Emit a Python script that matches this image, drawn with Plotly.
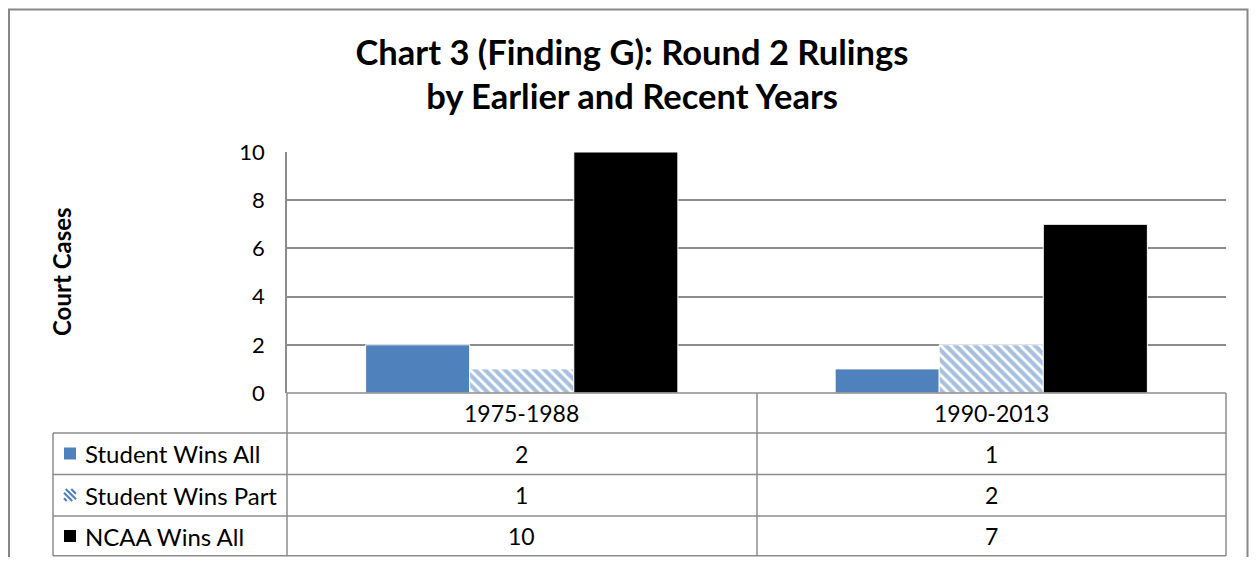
import plotly.graph_objects as go

# ---- data ----
categories = ["1975-1988", "1990-2013"]
series_names = ["Student Wins All", "Student Wins Part", "NCAA Wins All"]
student_wins_all = [2, 1]
student_wins_part = [1, 2]
ncaa_wins_all = [10, 7]
y_ticks = [0, 2, 4, 6, 8, 10]

series_values = [student_wins_all, student_wins_part, ncaa_wins_all]

# ---- geometry (target window pixels; page body has an 8px margin) ----
OFF = 8
WIN_W, WIN_H = 1257, 565
FW, FH = WIN_W - 2 * OFF, WIN_H - 2 * OFF
PL, PR, PT, PB = 287, 1226, 152, 393
PW, PH = PR - PL, PB - PT


def px(xp):
    return (xp - PL) / PW


def py(yp):
    return (PB - yp) / PH


FONT = "Lato"
GRID = "#8c8c8c"
BLUE = "#4F81BD"

fig = go.Figure()
fig.add_trace(go.Bar(
    x=categories, y=student_wins_all, name=series_names[0],
    marker=dict(color=BLUE, line=dict(color="white", width=1)),
))
fig.add_trace(go.Bar(
    x=categories, y=student_wins_part, name=series_names[1],
    marker=dict(color="white", line=dict(color="white", width=1),
                pattern=dict(shape="\\", fgcolor=BLUE, bgcolor="white",
                             size=7, solidity=0.6, fillmode="overlay")),
))
fig.add_trace(go.Bar(
    x=categories, y=ncaa_wins_all, name=series_names[2],
    marker=dict(color="black", line=dict(color="white", width=1)),
))

# ---- data table lines ----
TABLE_BOTTOM = 555.8
row_lines = [433, 474.5, 516, TABLE_BOTTOM]
line_style = dict(color=GRID, width=1.5)
shapes = []
shapes.append(dict(type="line", xref="paper", yref="paper",
                   x0=px(PL), x1=px(PR), y0=py(PB), y1=py(PB), line=line_style))
for r in row_lines:
    shapes.append(dict(type="line", xref="paper", yref="paper",
                       x0=px(53), x1=px(PR), y0=py(r), y1=py(r), line=line_style))
for xv, ytop in [(757, PB), (PR, PB), (53, 433)]:
    shapes.append(dict(type="line", xref="paper", yref="paper",
                       x0=px(xv), x1=px(xv), y0=py(ytop), y1=py(TABLE_BOTTOM), line=line_style))
shapes.append(dict(type="line", xref="paper", yref="paper",
                   x0=px(PL), x1=px(PL), y0=py(PB), y1=py(TABLE_BOTTOM), line=line_style))
# outer chart border (clamped to the drawable area)
BORDER_L, BORDER_T, BORDER_R = 9, 9.5, WIN_W - OFF - 1.5
shapes.append(dict(type="rect", xref="paper", yref="paper",
                   x0=px(BORDER_L), x1=px(BORDER_R), y0=py(BORDER_T), y1=py(620),
                   line=dict(color="#878787", width=2), fillcolor="rgba(0,0,0,0)",
                   layer="below"))

# ---- legend keys inside the data table ----
row_centers = [453.5, 495, 536]
KEY_X0, KEY_SIZE = 64, 12
key_style = [dict(fill=BLUE), dict(fill=None), dict(fill="black")]
for j, ks in enumerate(key_style):
    y0 = row_centers[j] - KEY_SIZE / 2
    if ks["fill"] is not None:
        shapes.append(dict(type="rect", xref="paper", yref="paper",
                           x0=px(KEY_X0), x1=px(KEY_X0 + KEY_SIZE),
                           y0=py(y0), y1=py(y0 + KEY_SIZE),
                           fillcolor=ks["fill"], line=dict(width=0)))
    else:
        # diagonal "\" stripes clipped to the key square
        step = 5.5
        c = -KEY_SIZE + step / 2
        while c < KEY_SIZE:
            xa, ya = max(0, c), max(0, -c)
            xb, yb = min(KEY_SIZE, KEY_SIZE + c), min(KEY_SIZE, KEY_SIZE - c)
            if xb > xa:
                shapes.append(dict(type="line", xref="paper", yref="paper",
                                   x0=px(KEY_X0 + xa), y0=py(y0 + ya),
                                   x1=px(KEY_X0 + xb), y1=py(y0 + yb),
                                   line=dict(color=BLUE, width=2.2)))
            c += step

annotations = []
tfont = dict(family=FONT, size=23, color="black")
for i, cat in enumerate(categories):
    annotations.append(dict(x=cat, xref="x", y=py(413), yref="paper",
                            xanchor="center", yanchor="middle",
                            text=cat, showarrow=False, font=tfont))
    for j, vals in enumerate(series_values):
        annotations.append(dict(x=cat, xref="x", y=py(row_centers[j]), yref="paper",
                                xanchor="center", yanchor="middle",
                                text=str(vals[i]), showarrow=False, font=tfont))

for j, name in enumerate(series_names):
    annotations.append(dict(x=px(83), xref="paper", y=py(row_centers[j]), yref="paper",
                            xanchor="left", yanchor="middle",
                            text=name, showarrow=False,
                            font=dict(family=FONT, size=24, color="black")))

annotations.append(dict(x=px(61), xref="paper", y=py(272), yref="paper",
                        xanchor="center", yanchor="middle",
                        text="<b>Court Cases</b>", textangle=-90, showarrow=False,
                        font=dict(family=FONT, size=24, color="black")))

fig.update_layout(
    width=FW, height=FH,
    margin=dict(l=PL - OFF, r=FW - (PR - OFF), t=PT - OFF, b=FH - (PB - OFF)),
    paper_bgcolor="white", plot_bgcolor="white",
    barmode="group", bargap=0.335, bargroupgap=0,
    title=dict(text="<b>Chart 3 (Finding G): Round 2 Rulings<br>by Earlier and Recent Years</b>",
               x=(632 - OFF) / FW, xanchor="center", xref="container",
               y=1 - (64.5 - OFF) / FH, yanchor="middle",
               font=dict(family=FONT, size=34.5, color="black")),
    xaxis=dict(showticklabels=False, showgrid=False, zeroline=False, showline=False),
    yaxis=dict(range=[0, 10], tickvals=y_ticks, showgrid=True, gridcolor=GRID, gridwidth=1.5,
               zeroline=False, showline=True, linecolor=GRID, linewidth=1.5,
               ticks="", ticklabelstandoff=16,
               tickfont=dict(family=FONT, size=22, color="black")),
    showlegend=False,
    shapes=shapes,
    annotations=annotations,
)

fig.write_html("out.html")
